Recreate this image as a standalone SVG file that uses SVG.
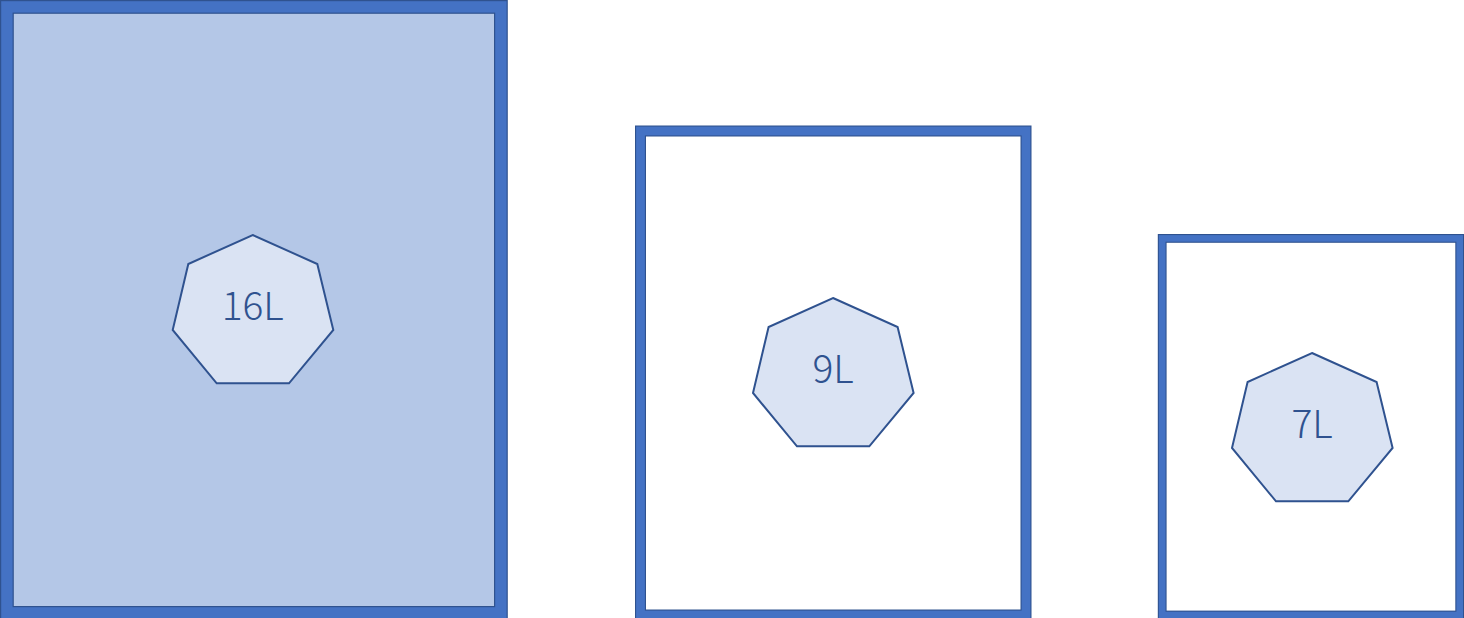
<svg xmlns="http://www.w3.org/2000/svg" width="1464" height="618" viewBox="0 0 1464 618">
  <style>
    .frame-dark { fill: none; stroke: #2F528F; }
    .frame { fill: none; stroke: #4472C4; }
    .hept { fill: #DAE3F3; stroke: #2F528F; stroke-width: 2; stroke-linejoin: miter; }
    .lbl { font-family: "Noto Sans CJK JP", "Noto Sans", sans-serif; font-size: 39px; font-weight: 300; fill: #2F528F; text-anchor: middle; }
  </style>
  <defs>
    <polygon id="hep" points="0,0 64.6,29 80.6,95 36.3,148.3 -36,148.3 -80,95 -64.4,29"/>
  </defs>
  <g id="tank16">
    <rect x="6.9" y="6.9" width="494" height="606" fill="#B4C7E7"/>
    <rect class="frame-dark" x="6.9" y="6.9" width="494" height="606" stroke-width="13.8"/>
    <rect class="frame" x="6.9" y="6.9" width="494" height="606" stroke-width="11.4"/>
    <use href="#hep" class="hept" x="252.7" y="235"/>
    <text class="lbl" x="252.7" y="320">16L</text>
  </g>
  <g id="tank9">
    <rect x="640.5" y="131" width="385.5" height="484" fill="#FFFFFF"/>
    <rect class="frame-dark" x="640.5" y="131" width="385.5" height="484" stroke-width="11"/>
    <rect class="frame" x="640.5" y="131" width="385.5" height="484" stroke-width="8.8"/>
    <use href="#hep" class="hept" x="833" y="298"/>
    <text class="lbl" x="833" y="383">9L</text>
  </g>
  <g id="tank7">
    <rect x="1162.2" y="238.4" width="297.5" height="376.6" fill="#FFFFFF"/>
    <rect class="frame-dark" x="1162.2" y="238.4" width="297.5" height="376.6" stroke-width="8.8"/>
    <rect class="frame" x="1162.2" y="238.4" width="297.5" height="376.6" stroke-width="6.6"/>
    <use href="#hep" class="hept" x="1312" y="353"/>
    <text class="lbl" x="1312" y="438">7L</text>
  </g>
  <g id="connectors"/>
</svg>
